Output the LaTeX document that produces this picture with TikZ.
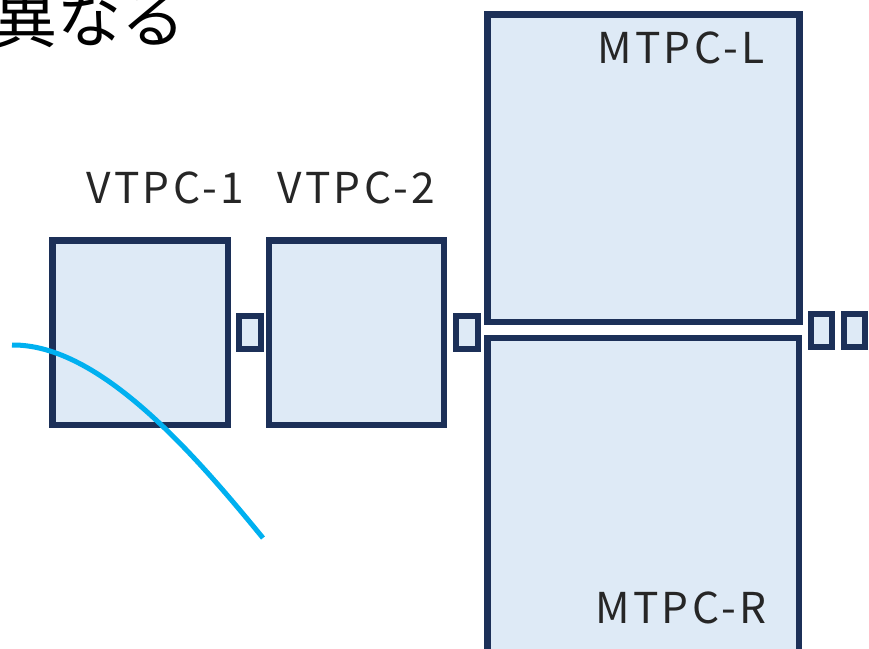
\documentclass[tikz,border=0pt]{standalone}
\usepackage{fontspec}
\newfontfamily\jp{Noto Sans CJK JP}
\newfontfamily\lblfont[LetterSpace=8]{Noto Sans CJK JP}
\definecolor{tpcline}{HTML}{1C3058}
\definecolor{tpcfill}{HTML}{DEEAF6}
\definecolor{track}{HTML}{00B0F0}
\tikzset{
  tpcbox/.style={draw=tpcline, fill=tpcfill, line width=6.5pt, rectangle, inner sep=0pt},
  smallbox/.style={draw=tpcline, fill=tpcfill, line width=6pt, rectangle, inner sep=0pt},
  lbl/.style={anchor=base west, inner sep=0pt, font=\lblfont\fontsize{42.5}{50}\selectfont, text=black!85},
}
\begin{document}
\begin{tikzpicture}[x=1pt,y=-1pt]
\useasboundingbox[fill=white] (0,0) rectangle (869,648);
% big boxes
\node[tpcbox, minimum width=175.5pt, minimum height=184.5pt] (v1) at (140,332.5) {};
\node[tpcbox, minimum width=175pt, minimum height=184.5pt] (v2) at (356.5,332.5) {};
\node[tpcbox, minimum width=311.8pt, minimum height=307.5pt] (ml) at (643.4,168) {};
\node[tpcbox, minimum width=311.3pt, minimum height=330pt] (mr) at (643.2,503) {};
% small boxes
\node[smallbox, minimum width=22.3pt, minimum height=33pt] (s1) at (249.8,332.5) {};
\node[smallbox, minimum width=21.7pt, minimum height=33pt] (s2) at (466.8,332.5) {};
\node[smallbox, minimum width=21.3pt, minimum height=33.3pt] (s3) at (821.3,330.4) {};
\node[smallbox, minimum width=21.3pt, minimum height=33.3pt] (s4) at (854.6,330.4) {};
% labels
\node[lbl] (tv1) at (86,203.3) {VTPC-1};
\node[lbl] (tv2) at (277,203.3) {VTPC-2};
\node[lbl] (tml) at (597,63.3) {MTPC-L};
\node[lbl] (tmr) at (595,623.3) {MTPC-R};
\node[anchor=base west, inner sep=0pt, font=\jp\fontsize{64}{70}\selectfont] (title) at (-7,42.5) {異なる};
% track
\coordinate (t0) at (12,345);
\coordinate (t1) at (263,538);
\draw[track, line width=5pt] (t0) .. controls (100,344) and (195,455) .. (t1);
\end{tikzpicture}
\end{document}
